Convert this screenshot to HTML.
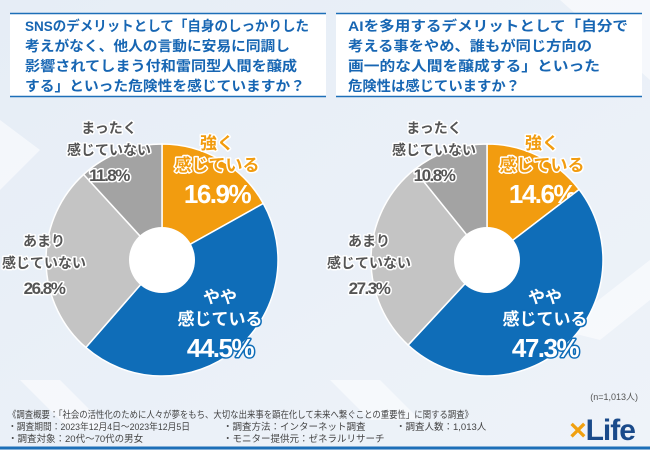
<!DOCTYPE html>
<html><head><meta charset="utf-8">
<style>
body{margin:0;width:650px;height:450px;overflow:hidden;background:#eaf0f7;font-family:"Liberation Sans","Noto Sans CJK JP",sans-serif;}
svg{display:block}
</style></head>
<body>
<svg width="650" height="450" font-family="Liberation Sans, Noto Sans CJK JP, sans-serif">
<defs>
<linearGradient id="bg" x1="0" y1="0" x2="1" y2="1"><stop offset="0" stop-color="#e6edf6"/><stop offset="1" stop-color="#eef3f9"/></linearGradient>
</defs>
<rect width="650" height="450" fill="url(#bg)"/>
<g opacity="0.55" fill="#ffffff">
<polygon points="0,120 40,150 0,190"/>
<polygon points="560,0 650,0 650,80"/>
<polygon points="20,380 60,380 110,430 70,430"/>
<polygon points="330,380 380,380 420,420 370,420"/>
<polygon points="560,330 650,260 650,300 600,340"/>
</g>
<g>
<rect x="10" y="13" width="316" height="84" fill="#fff"/>
<line x1="10" y1="13.5" x2="326" y2="13.5" stroke="#1d6fb8" stroke-width="1.5"/>
<line x1="10" y1="96.5" x2="326" y2="96.5" stroke="#1d6fb8" stroke-width="1.5"/>
<g fill="#1766b3" font-size="14" font-weight="bold">
<text x="25" y="31" textLength="284" lengthAdjust="spacingAndGlyphs">SNSのデメリットとして「自身のしっかりした</text>
<text x="25" y="51" textLength="265" lengthAdjust="spacingAndGlyphs">考えがなく、他人の言動に安易に同調し</text>
<text x="25" y="71" textLength="272" lengthAdjust="spacingAndGlyphs">影響されてしまう付和雷同型人間を醸成</text>
<text x="25" y="91" textLength="280" lengthAdjust="spacingAndGlyphs">する」といった危険性を感じていますか？</text>
</g></g>
<g>
<rect x="336" y="13" width="306" height="84" fill="#fff"/>
<line x1="336" y1="13.5" x2="642" y2="13.5" stroke="#1d6fb8" stroke-width="1.5"/>
<line x1="336" y1="96.5" x2="642" y2="96.5" stroke="#1d6fb8" stroke-width="1.5"/>
<g fill="#1766b3" font-size="14" font-weight="bold">
<text x="348" y="31" textLength="280" lengthAdjust="spacingAndGlyphs">AIを多用するデメリットとして「自分で</text>
<text x="348" y="51" textLength="244" lengthAdjust="spacingAndGlyphs">考える事をやめ、誰もが同じ方向の</text>
<text x="348" y="71" textLength="252" lengthAdjust="spacingAndGlyphs">画一的な人間を醸成する」といった</text>
<text x="348" y="91" textLength="172" lengthAdjust="spacingAndGlyphs">危険性は感じていますか？</text>
</g></g>
<g id="pies"></g>
<text x="638" y="400" font-size="9" fill="#555" text-anchor="end">(n=1,013人)</text>
<g font-size="9.5" fill="#444">
<text x="8" y="418" textLength="465" lengthAdjust="spacingAndGlyphs">《調査概要：「社会の活性化のために人々が夢をもち、大切な出来事を顕在化して未来へ繋ぐことの重要性」に関する調査》</text>
<text x="8" y="430" textLength="182" lengthAdjust="spacingAndGlyphs">・調査期間：2023年12月4日〜2023年12月5日</text>
<text x="223" y="430">・調査方法：インターネット調査</text>
<text x="396" y="430">・調査人数：1,013人</text>
<text x="8" y="442">・調査対象：20代〜70代の男女</text>
<text x="223" y="442">・モニター提供元：ゼネラルリサーチ</text>
</g>
<g>
<text x="602" y="440" font-size="30" font-weight="bold" fill="#1a4a8a" text-anchor="middle" letter-spacing="-1"><tspan fill="#f0a010">×</tspan>Life</text>
</g>
<line x1="0" y1="448" x2="650" y2="448" stroke="#1d6fb8" stroke-width="3"/>
</svg>
<script>
const categories=["強く感じている","やや感じている","あまり感じていない","まったく感じていない"];
const sns=[16.9,44.5,26.8,11.8];
const ai=[14.6,47.3,27.3,10.8];
const colors=["#f29c0f","#0f6db8","#c4c4c4","#a3a3a3"];
const NS="http://www.w3.org/2000/svg";
const g=document.getElementById('pies');
function mk(t,a){const e=document.createElementNS(NS,t);for(const k in a)e.setAttribute(k,a[k]);return e;}
function pie(cx,cy,vals,name){
  const R=116,r=33,tot=vals.reduce((a,b)=>a+b,0);
  const grp=mk('g',{});
  
  
  let a0=0;
  vals.forEach((v,i)=>{
    const a1=a0+v/tot*2*Math.PI;
    const x0=cx+R*Math.sin(a0),y0=cy-R*Math.cos(a0),x1=cx+R*Math.sin(a1),y1=cy-R*Math.cos(a1);
    const p=mk('path',{d:`M${cx},${cy}L${x0},${y0}A${R},${R} 0 ${a1-a0>Math.PI?1:0} 1 ${x1},${y1}Z`,fill:colors[i],stroke:"#fff","stroke-width":1.5});
    
    
    grp.appendChild(p);
    let lx,ly;
    if(i===0){lx=cx+55;ly=cy-111;}
    else if(i===1){lx=cx+58;ly=cy+43;}
    else if(i===2){lx=cx-118;ly=cy-14;}
    else {lx=cx-53;ly=cy-127;}
    const lines=[["強く","感じている"],["やや","感じている"],["あまり","感じていない"],["まったく","感じていない"]][i];
    const fill=["#f29c0f","#fff","#555","#555"][i];
    const strk=["#fff","#0f6db8","#fff","#fff"][i];
    const pfill=["#fff","#fff","#555","#555"][i];
    const pstrk=["#f29c0f","#0f6db8","#fff","#fff"][i];
    const big=(i<2);
    const t=mk('text',{"text-anchor":"middle","font-weight":"bold","paint-order":"stroke","stroke-linejoin":"round"});
    
    
    lines.forEach((s,j)=>{const ts=mk('tspan',{x:lx,y:ly+j*22,"font-size":big?17:14,fill:fill,stroke:strk,"stroke-width":3});ts.textContent=s;t.appendChild(ts);});
    const ps=mk('tspan',{x:lx,y:ly+lines.length*22+(big?10:4),"font-size":big?26:17,fill:pfill,stroke:pstrk,"stroke-width":3,"letter-spacing":"-1.5"});
    ps.textContent=v.toFixed(1)+"%";t.appendChild(ps);
    grp.appendChild(t);
    a0=a1;
  });
  const h=mk('circle',{cx:cx,cy:cy,r:r,fill:"#fff"});
  
  
  grp.appendChild(h);
  g.appendChild(grp);
}
pie(162,260,sns,'sns-pie');
pie(487,260,ai,'ai-pie');
</script>
</body></html>
